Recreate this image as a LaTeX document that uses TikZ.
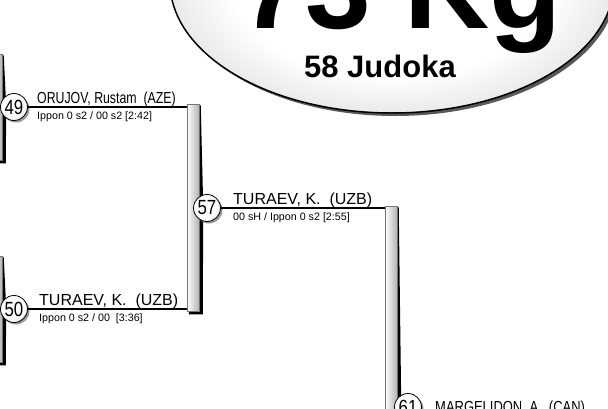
\documentclass[tikz,border=0pt]{standalone}
\usepackage{fontspec}
\setmainfont{Liberation Sans}
\usetikzlibrary{calc,shapes.geometric,shadows}
\pgfdeclarelayer{background}
\pgfsetlayers{background,main}
\pgfdeclareradialshading{ellshade}{\pgfpoint{0bp}{0bp}}{color(0bp)=(white); color(18bp)=(white); color(50bp)=(black!38)}
\pgfdeclareradialshading{circshade}{\pgfpoint{-8bp}{8bp}}{color(0bp)=(white); color(22bp)=(white); color(58bp)=(black!35)}
\tikzset{
  matchline/.style={line width=1.8pt, draw=black},
  numcircle/.style={circle, draw=black, line width=0.8pt, shading=circshade,
    minimum size=27pt, inner sep=0pt, font=\fontsize{20.5}{20.5}\selectfont,
    drop shadow={shadow xshift=2pt, shadow yshift=-2pt, fill=black!40, opacity=1}},
  barbox/.style={rectangle, draw=black!55, line width=0.5pt, left color=white,
    right color=black!30, minimum width=12pt, inner sep=0pt},
  barshadow/.style={fill=black},
  namelabel/.style={anchor=base west, inner sep=0pt, font=\fontsize{16}{16}\selectfont},
  scorelabel/.style={anchor=base west, inner sep=0pt, font=\fontsize{10.7}{11}\selectfont},
}
\begin{document}
\begin{tikzpicture}[x=1pt,y=-1pt]
\useasboundingbox (0,0) rectangle (608,408);
\clip (0,0) rectangle (608,408);
% title
\node[ellipse, draw=black, line width=1.5pt, shading=ellshade, minimum width=444pt,
  minimum height=262pt, inner sep=0pt,
  drop shadow={shadow xshift=3pt, shadow yshift=-3pt, fill=black!65, opacity=1}] (title) at (392,-18) {};
\node[anchor=base west, inner sep=0pt, font=\bfseries\fontsize{118}{118}\selectfont] (weight) at (240,28) {73 Kg};
\node[anchor=base, inner sep=0pt, font=\bfseries\fontsize{31}{31}\selectfont] (count) at (380,77) {58 Judoka};
% bars
\node[barbox, minimum height=106pt] (bar49) at (-4,107) {};
\node[barbox, minimum height=106pt] (bar50) at (-4,309) {};
\node[barbox, minimum height=207pt] (bar57) at (193,207.5) {};
\node[barbox, minimum height=400pt] (bar61) at (391,406) {};
\begin{pgfonlayer}{background}
\foreach \b in {bar49,bar50,bar57,bar61}
  \fill[barshadow] ($(\b.north east)+(-1,1.5)$) -- ($(\b.north east)+(1.5,1.5)$)
    -- ($(\b.east)+(4,0)$)
    -- ($(\b.south east)+(3.5,3)$) -- ($(\b.south west)+(2,3)$)
    -- ($(\b.south west)+(2,0)$) -- cycle;
\end{pgfonlayer}
% circles
\node[numcircle] (c49) at (14,107) {\scalebox{0.82}[1]{49}};
\node[numcircle] (c50) at (14,309) {\scalebox{0.82}[1]{50}};
\node[numcircle] (c57) at (207,208) {\scalebox{0.82}[1]{57}};
\node[numcircle] (c61) at (408,407) {\scalebox{0.82}[1]{61}};
% match lines
\draw[matchline] (c49.east) -- (c49.east -| bar57.west);
\draw[matchline] (c50.east) -- (c50.east -| bar57.west);
\draw[matchline] (c57.east) -- (c57.east -| bar61.west);
% labels
\node[namelabel] (n49) at (37,103) {\scalebox{0.77}[1]{ORUJOV, Rustam~ (AZE)}};
\node[scorelabel] (s49) at (37,119.5) {Ippon 0 s2 / 00 s2 [2:42]};
\node[namelabel] (n50) at (39,305) {TURAEV, K.~ (UZB)};
\node[scorelabel] (s50) at (39,321.5) {Ippon 0 s2 / 00~ [3:36]};
\node[namelabel] (n57) at (233,204) {TURAEV, K.~ (UZB)};
\node[scorelabel] (s57) at (233,220.5) {00 sH / Ippon 0 s2 [2:55]};
\node[namelabel] (n61) at (435,412) {\scalebox{0.81}[1]{MARGELIDON, A.~ (CAN)}};
\end{tikzpicture}
\end{document}
